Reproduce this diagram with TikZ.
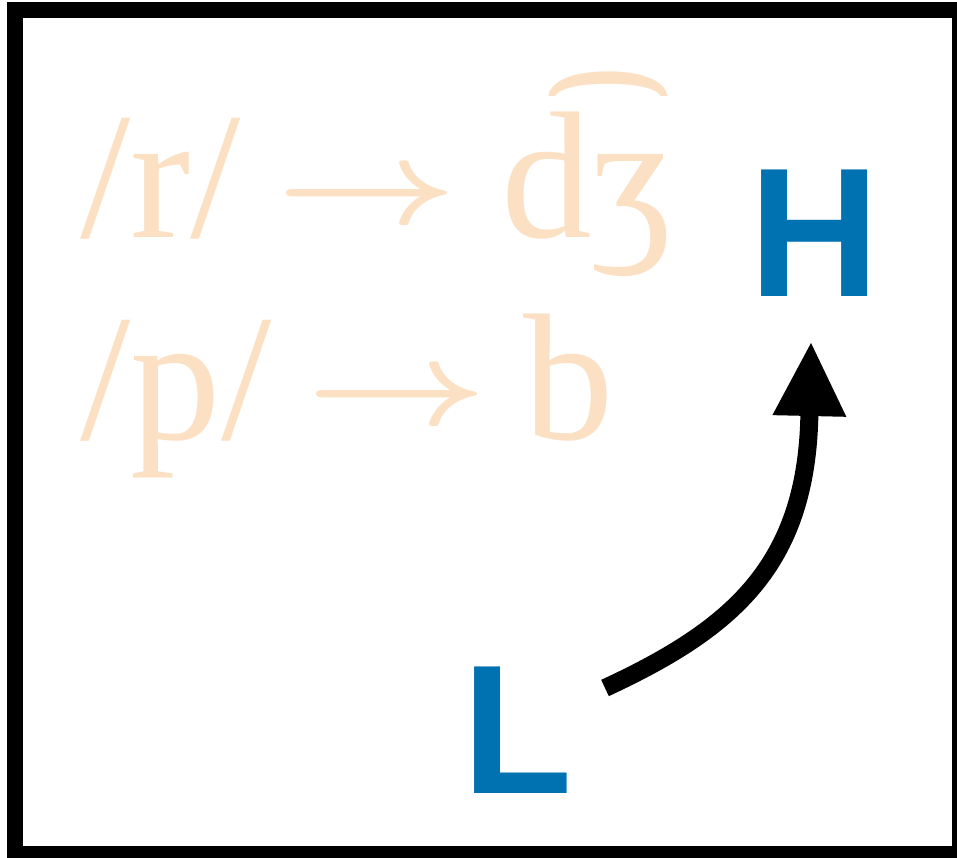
\documentclass[tikz,border=0pt]{standalone}
\usepackage{graphicx}
\usepackage{fontspec}
\setmainfont{Liberation Serif}
\newfontfamily\tonefont{Liberation Sans}
\usetikzlibrary{arrows.meta}
\definecolor{peach}{RGB}{252,224,196}
\definecolor{toneblue}{RGB}{0,114,178}
\newcommand{\bigarrow}{\raisebox{14.75pt}{\scalebox{15.75}[12.1]{\fontsize{10}{12}\selectfont\boldmath$\rightarrow$}}}
\tikzset{
  rule/.style={anchor=base west,inner sep=0pt,text=peach,font=\fontsize{181}{200}\selectfont},
  tone/.style={inner sep=0pt,text=toneblue,xscale=0.98,font=\fontsize{184}{200}\selectfont\tonefont\bfseries},
  bend arrow/.style={line width=18pt,-{Triangle[length=73pt,width=74pt,line width=0pt]}},
  frame/.style={line width=16pt}
}
\begin{document}
\begin{tikzpicture}[x=1pt,y=-1pt]
\useasboundingbox (0,0) rectangle (957,858);
\draw[frame] (15,10) rectangle (960,854);
\node[rule] (r1) at (80,238) {/r/\hspace{35pt}\bigarrow\hspace{44pt}d͡ʒ};
\node[rule] (r2) at (80,439) {/p/\hspace{35pt}\bigarrow\hspace{36pt}b};
\node[tone,anchor=base] (H) at (815,296) {H};
\node[tone,anchor=base west] (L) at (462,793) {L};
\coordinate (tail) at (605,688);
\coordinate (tip) at (811,343);
\draw[bend arrow] (tail) .. controls (732,629) and (806,566) .. (tip);
\end{tikzpicture}
\end{document}
